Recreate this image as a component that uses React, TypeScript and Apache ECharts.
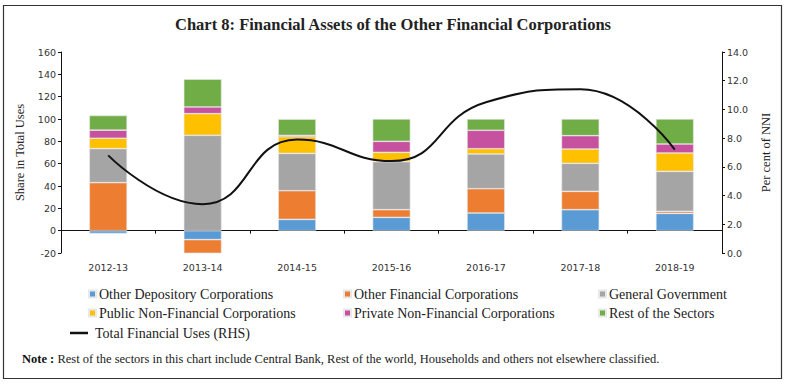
import React, { useEffect, useRef } from "react";
import * as echarts from "echarts";

const categories = ["2012-13", "2013-14", "2014-15", "2015-16", "2016-17", "2017-18", "2018-19"];
const otherDepository = [-2.5, -8, 10.1, 11.9, 15.8, 18.8, 15.5];
const otherFinancial = [43, -13.5, 25.7, 6.9, 21.8, 16.4, 1.8];
const generalGovernment = [30.5, 85.4, 33.4, 43, 31.1, 25.1, 35.8];
const publicNonFin = [9.3, 19.4, 14.9, 8.3, 4.7, 12.8, 16.5];
const privateNonFin = [7.2, 6, 1.2, 9.9, 16.5, 12, 8.0];
const restOfSectors = [13.1, 24.8, 14.6, 20, 10.1, 14.9, 22.4];
const totalUses = [6.8, 3.4, 7.9, 6.4, 10.5, 11.4, 7.2];

const barSeries = [
  { name: "Other Depository Corporations", data: otherDepository, color: "#5B9BD5" },
  { name: "Other Financial Corporations", data: otherFinancial, color: "#ED7D31" },
  { name: "General Government", data: generalGovernment, color: "#A5A5A5" },
  { name: "Public Non-Financial Corporations", data: publicNonFin, color: "#FFC000" },
  { name: "Private Non-Financial Corporations", data: privateNonFin, color: "#C6519F" },
  { name: "Rest of the Sectors", data: restOfSectors, color: "#70AD47" },
];
const lineName = "Total Financial Uses (RHS)";

const SERIF = "'Liberation Serif', 'DejaVu Serif', serif";
const SANS = "'DejaVu Sans', sans-serif";

export default function App() {
  const ref = useRef<HTMLDivElement>(null);
  useEffect(() => {
    document.body.style.margin = "0";
    if (!ref.current) return;
    const chart = echarts.init(ref.current, undefined, { renderer: "svg" });
    const legendPos = [
      [88, 287], [343, 287], [598, 287],
      [88, 306], [343, 306], [598, 306],
    ];
    const legends: any[] = barSeries.map((s, i) => ({
      data: [s.name],
      left: legendPos[i][0],
      top: legendPos[i][1],
      padding: 0,
      icon: "rect",
      itemWidth: 7,
      itemHeight: 7,
      itemGap: 0,
      selectedMode: false,
      textStyle: { fontFamily: SERIF, fontSize: 14, color: "#222", padding: [0, 0, 0, -2] },
    }));
    legends.push({
      data: [lineName],
      left: 70,
      top: 326,
      padding: 0,
      icon: "rect",
      itemWidth: 18,
      itemHeight: 2.5,
      selectedMode: false,
      textStyle: { fontFamily: SERIF, fontSize: 14, color: "#222", padding: [0, 0, 0, 2] },
    });

    chart.setOption({
      animation: false,
      title: {
        text: "Chart 8: Financial Assets of the Other Financial Corporations",
        left: "center",
        top: 11,
        textStyle: { fontFamily: SERIF, fontSize: 16.5, fontWeight: "bold", color: "#222" },
      },
      legend: legends,
      grid: { left: 61, right: 64, top: 52, bottom: 132, containLabel: false },
      xAxis: {
        type: "category",
        data: categories,
        axisLine: { onZero: true, lineStyle: { color: "#111", width: 1 } },
        axisTick: { show: true, length: 3, lineStyle: { color: "#111" } },
        axisLabel: { margin: 9, fontFamily: SANS, fontSize: 9.5, color: "#333" },
      },
      yAxis: [
        {
          type: "value",
          min: -20,
          max: 160,
          interval: 20,
          name: "Share in Total Uses",
          nameLocation: "middle",
          nameRotate: 90,
          nameGap: 30,
          nameTextStyle: { fontFamily: SERIF, fontSize: 12.5, color: "#222" },
          axisLine: { show: true, lineStyle: { color: "#111" } },
          axisTick: { show: true, length: 3, lineStyle: { color: "#111" } },
          axisLabel: { fontFamily: SANS, fontSize: 9.5, color: "#333", margin: 5 },
          splitLine: { show: false },
        },
        {
          type: "value",
          min: 0,
          max: 14,
          interval: 2,
          name: "Per cent of NNI",
          nameLocation: "middle",
          nameRotate: 90,
          nameGap: 36,
          nameTextStyle: { fontFamily: SERIF, fontSize: 12.5, color: "#222" },
          axisLine: { show: true, lineStyle: { color: "#111" } },
          axisTick: { show: true, length: 3, lineStyle: { color: "#111" } },
          axisLabel: {
            fontFamily: SANS,
            fontSize: 9.5,
            color: "#333",
            margin: 5,
            formatter: (v: number) => v.toFixed(1),
          },
          splitLine: { show: false },
        },
      ],
      series: [
        ...barSeries.map((s) => ({
          name: s.name,
          type: "bar",
          stack: "total",
          data: s.data,
          barCategoryGap: "60%",
          itemStyle: { color: s.color, borderColor: "#e8e8e8", borderWidth: 0.6 },
        })),
        {
          name: lineName,
          type: "line",
          yAxisIndex: 1,
          data: totalUses,
          smooth: 0.5,
          symbol: "none",
          lineStyle: { color: "#111", width: 2 },
          itemStyle: { color: "#111" },
        },
      ],
      graphic: [
        {
          type: "rect",
          shape: { x: 3.5, y: 5.5, width: 778, height: 373 },
          style: { fill: "none", stroke: "#333", lineWidth: 1.2 },
          silent: true,
        },
        {
          type: "text",
          left: 22,
          top: 352,
          style: {
            text: "{b|Note :} Rest of the sectors in this chart include Central Bank, Rest of the world, Households and others not elsewhere classified.",
            rich: {
              b: { fontFamily: SERIF, fontSize: 12.5, fontWeight: "bold", fill: "#111" },
            },
            fontFamily: SERIF,
            fontSize: 12.5,
            fill: "#222",
          },
        },
      ],
    });
    return () => chart.dispose();
  }, []);
  return <div ref={ref} style={{ width: 786, height: 385 }} />;
}
